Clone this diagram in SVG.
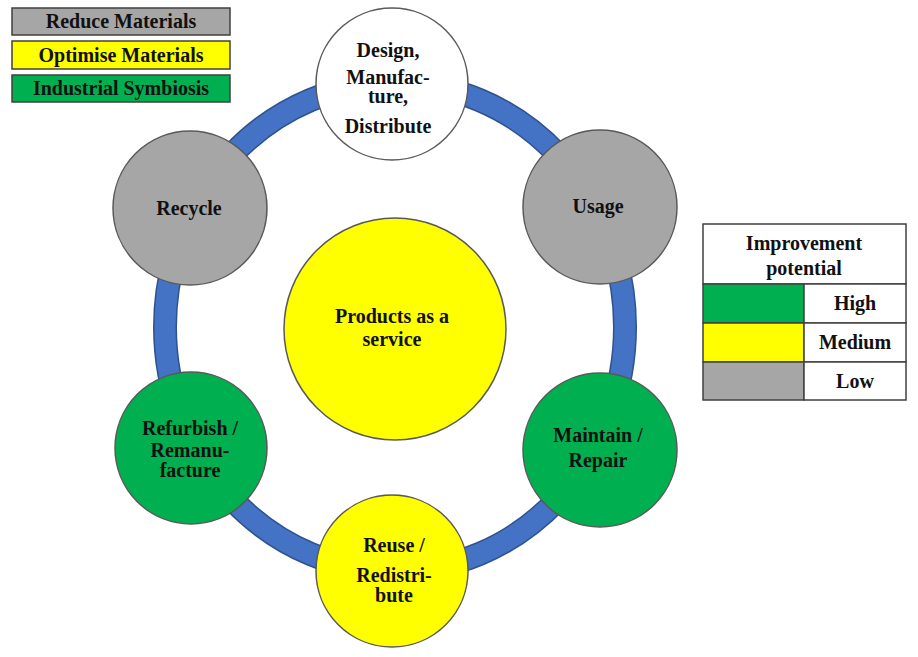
<svg xmlns="http://www.w3.org/2000/svg" width="918" height="657" viewBox="0 0 918 657">
<style>
.t{font-family:"Liberation Serif","Times New Roman",serif;font-weight:bold;font-size:20px;fill:#111;text-anchor:middle}
.node{stroke:#595959;stroke-width:1.5}
.gray{fill:#A6A6A6}.yel{fill:#FFFF00}.grn{fill:#00B050}.wht{fill:#FFFFFF}
.box{stroke:#404040;stroke-width:1.5}
.cell{stroke:#404040;stroke-width:1.5}
</style>
<rect width="918" height="657" fill="#FFFFFF"/>
<g id="connectors">
<ellipse cx="395" cy="327" rx="230" ry="244" fill="none" stroke="#2F528F" stroke-width="24"/>
<ellipse cx="395" cy="327" rx="230" ry="244" fill="none" stroke="#4472C4" stroke-width="21"/>
</g>
<g id="legend-categories">
<rect class="box gray" x="12" y="8" width="218" height="27"/>
<text class="t" x="121" y="28">Reduce Materials</text>
<rect class="box yel" x="12" y="41" width="218" height="28"/>
<text class="t" x="121" y="62">Optimise Materials</text>
<rect class="box grn" x="12" y="75" width="218" height="27"/>
<text class="t" x="121" y="95">Industrial Symbiosis</text>
</g>
<g id="center">
<circle class="node yel" cx="395" cy="329" r="111"/>
<text class="t" x="392" y="323">Products as a</text>
<text class="t" x="392" y="346">service</text>
</g>
<g id="design">
<circle class="node wht" cx="392" cy="84" r="76"/>
<text class="t" x="388" y="57">Design,</text>
<text class="t" x="388" y="84">Manufac-</text>
<text class="t" x="388" y="103">ture,</text>
<text class="t" x="388" y="133">Distribute</text>
</g>
<g id="usage">
<circle class="node gray" cx="600" cy="207" r="77"/>
<text class="t" x="598" y="213">Usage</text>
</g>
<g id="maintain">
<circle class="node grn" cx="600" cy="450" r="77"/>
<text class="t" x="598" y="442">Maintain /</text>
<text class="t" x="598" y="467">Repair</text>
</g>
<g id="reuse">
<circle class="node yel" cx="392" cy="571" r="76"/>
<text class="t" x="394" y="552">Reuse /</text>
<text class="t" x="394" y="582">Redistri-</text>
<text class="t" x="394" y="602">bute</text>
</g>
<g id="refurbish">
<circle class="node grn" cx="191" cy="448" r="76"/>
<text class="t" x="190" y="435">Refurbish /</text>
<text class="t" x="190" y="457">Remanu-</text>
<text class="t" x="190" y="477">facture</text>
</g>
<g id="recycle">
<circle class="node gray" cx="190" cy="208" r="77"/>
<text class="t" x="189" y="215">Recycle</text>
</g>
<g id="legend-potential">
<rect class="cell wht" x="703" y="224" width="203" height="60"/>
<text class="t" x="804" y="250">Improvement</text>
<text class="t" x="804" y="275">potential</text>
<rect class="cell grn" x="703" y="284" width="101" height="39"/>
<rect class="cell wht" x="804" y="284" width="102" height="39"/>
<text class="t" x="855" y="310">High</text>
<rect class="cell yel" x="703" y="323" width="101" height="39"/>
<rect class="cell wht" x="804" y="323" width="102" height="39"/>
<text class="t" x="855" y="349">Medium</text>
<rect class="cell gray" x="703" y="362" width="101" height="38"/>
<rect class="cell wht" x="804" y="362" width="102" height="38"/>
<text class="t" x="855" y="388">Low</text>
</g>
</svg>
